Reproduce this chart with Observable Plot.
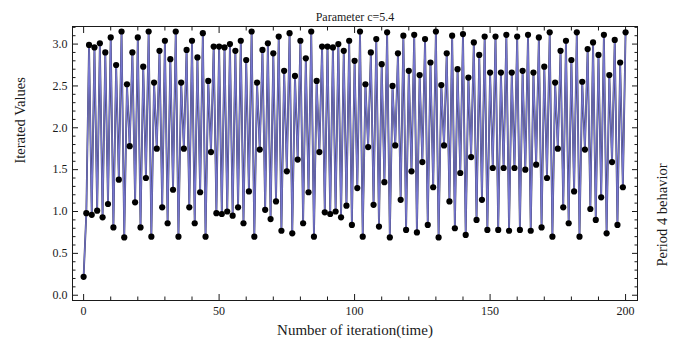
<!DOCTYPE html>
<html>
<head>
<meta charset="utf-8">
<script src="https://cdn.jsdelivr.net/npm/d3@7"></script>
<script src="https://cdn.jsdelivr.net/npm/@observablehq/plot@0.6"></script>
<style>
  html, body { margin: 0; padding: 0; background: #fff; }
  #chart svg { display: block; }
</style>
</head>
<body>
<div id="chart"></div>
<script>
// Iterated values of the map for parameter c = 5.4, iteration 0..200
const iterates = [
  0.22, 0.98, 2.99, 0.96, 2.96, 1.01, 3.01, 0.93, 2.90, 1.09,
  3.08, 0.81, 2.75, 1.38, 3.15, 0.69, 2.52, 1.78, 2.90, 1.11,
  3.08, 0.81, 2.73, 1.40, 3.15, 0.70, 2.54, 1.75, 2.92, 1.05,
  3.04, 0.86, 2.82, 1.26, 3.15, 0.70, 2.54, 1.75, 2.93, 1.05,
  3.04, 0.86, 2.84, 1.23, 3.13, 0.70, 2.56, 1.71, 2.97, 0.98,
  2.97, 0.97, 2.96, 1.00, 3.00, 0.95, 2.92, 1.05, 3.04, 0.86,
  2.81, 1.24, 3.15, 0.70, 2.54, 1.74, 2.93, 1.02, 3.01, 0.91,
  2.89, 1.12, 3.09, 0.77, 2.68, 1.48, 3.13, 0.74, 2.62, 1.62,
  3.04, 0.86, 2.83, 1.23, 3.15, 0.70, 2.56, 1.71, 2.97, 0.99,
  2.97, 0.97, 2.96, 1.00, 3.00, 0.93, 2.92, 1.07, 3.04, 0.84,
  2.80, 1.28, 3.15, 0.70, 2.52, 1.77, 2.90, 1.08, 3.06, 0.82,
  2.76, 1.35, 3.14, 0.69, 2.50, 1.79, 2.89, 1.14, 3.10, 0.78,
  2.68, 1.48, 3.11, 0.75, 2.63, 1.59, 3.06, 0.84, 2.78, 1.29,
  3.15, 0.69, 2.51, 1.79, 2.89, 1.12, 3.10, 0.80, 2.70, 1.46,
  3.12, 0.72, 2.60, 1.65, 3.02, 0.90, 2.87, 1.14, 3.09, 0.78,
  2.66, 1.52, 3.09, 0.78, 2.66, 1.52, 3.11, 0.77, 2.66, 1.52,
  3.09, 0.78, 2.68, 1.50, 3.11, 0.77, 2.66, 1.56, 3.08, 0.81,
  2.73, 1.40, 3.14, 0.70, 2.54, 1.75, 2.92, 1.05, 3.04, 0.86,
  2.81, 1.24, 3.14, 0.70, 2.55, 1.74, 2.94, 1.03, 3.02, 0.90,
  2.87, 1.17, 3.11, 0.74, 2.63, 1.59, 3.05, 0.84, 2.78, 1.29,
  3.14
];

const xTicksMajor = [0, 50, 100, 150, 200];
const yTicksMajor = [0, 0.5, 1, 1.5, 2, 2.5, 3];
const xTicksMinor = d3.range(0, 201, 10).filter(d => d % 50 !== 0);
const yTicksMinor = d3.range(0, 33).map(d => d / 10).filter(d => Math.round(d * 10) % 5 !== 0);

const titleText = "Parameter c=5.4";
const xLabel = "Number of iteration(time)";
const yLabel = "Iterated Values";
const rightLabel = "Period 4 behavior";

const points = iterates.map((v, n) => ({n, v}));

const serif = "Liberation Serif, Times New Roman, serif";
const ink = "#1a1a1a";

// inward-pointing frame ticks (no labels)
function frameTicksX(ticks, anchor, size) {
  return Plot.axisX(ticks, {anchor, tickSize: size, dy: anchor === "bottom" ? -size : size,
    tickFormat: () => "", label: null, stroke: ink});
}
function frameTicksY(ticks, anchor, size) {
  return Plot.axisY(ticks, {anchor, tickSize: size, dx: anchor === "left" ? size : -size,
    tickFormat: () => "", label: null, stroke: ink});
}

const chart = Plot.plot({
  width: 683,
  height: 351,
  marginLeft: 72,
  marginRight: 46,
  marginTop: 26,
  marginBottom: 51,
  style: {fontFamily: serif, fontSize: "12px", color: ink, background: "#fff"},
  x: {domain: [-4.1, 204.4], axis: null},
  y: {domain: [-0.063, 3.21], axis: null},
  marks: [
    frameTicksX(xTicksMajor, "bottom", 6),
    frameTicksX(xTicksMinor, "bottom", 3.5),
    frameTicksX(xTicksMajor, "top", 6),
    frameTicksX(xTicksMinor, "top", 3.5),
    frameTicksY(yTicksMajor, "left", 6),
    frameTicksY(yTicksMinor, "left", 3.5),
    frameTicksY(yTicksMajor, "right", 6),
    frameTicksY(yTicksMinor, "right", 3.5),
    // tick labels
    Plot.axisX(xTicksMajor, {anchor: "bottom", tickSize: 0, tickPadding: 6, tickFormat: d3.format("d"),
      label: null, fontSize: 12, fill: ink, ariaLabel: "xticklabels"}),
    Plot.axisY(yTicksMajor, {anchor: "left", tickSize: 0, tickPadding: 5, tickFormat: d3.format(".1f"),
      label: null, fontSize: 12, fill: ink}),
    // the iteration path and its points
    Plot.line(points, {x: "n", y: "v", stroke: "#34344a", strokeWidth: 1.8}),
    Plot.line(points, {x: "n", y: "v", stroke: "#7676d0", strokeWidth: 1.25}),
    Plot.dot(points, {x: "n", y: "v", r: 3.1, fill: "#000", stroke: "none"}),
    Plot.frame({stroke: ink, strokeWidth: 1}),
    // titles
    Plot.text([titleText], {frameAnchor: "top", dy: -14, fontSize: 12, fill: ink, ariaLabel: "title"}),
    Plot.text([xLabel], {frameAnchor: "bottom", dy: 34, fontSize: 15, fill: ink, ariaLabel: "xlabel"}),
    Plot.text([yLabel], {frameAnchor: "left", dx: -52, rotate: -90, fontSize: 14.5, fill: ink}),
    Plot.text([rightLabel], {frameAnchor: "right", dx: 25, rotate: -90, fontSize: 14.5, fill: ink})
  ]
});

document.getElementById("chart").appendChild(chart);

// horizontal type is set a little wider
d3.select(chart).selectAll("g[aria-label=xlabel] text").attr("letter-spacing", "1.3px");
d3.select(chart).selectAll("g[aria-label=title] text").attr("letter-spacing", "0.6px");
d3.select(chart).selectAll("g[aria-label=xticklabels] text").attr("letter-spacing", "0.8px");
</script>
</body>
</html>
